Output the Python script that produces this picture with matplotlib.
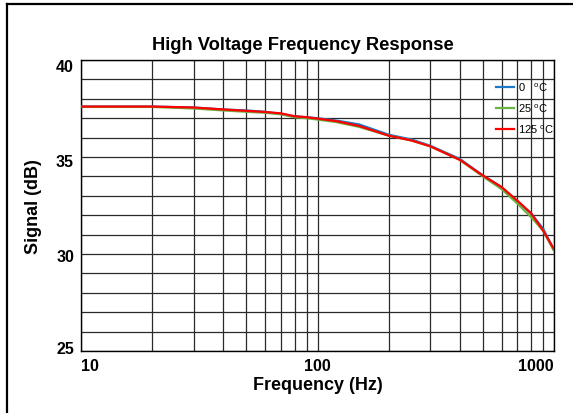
import matplotlib
matplotlib.use("Agg")
import matplotlib.pyplot as plt
from matplotlib.lines import Line2D
from matplotlib.transforms import ScaledTranslation

plt.rcParams['font.family'] = ['Liberation Sans', 'DejaVu Sans']

freq = [10, 20, 30, 40, 50, 60, 70, 80, 90, 100, 120, 150, 200, 250, 300, 400, 500, 600, 700, 800, 900, 1000]
sig_0C = [37.6, 37.6, 37.55, 37.45, 37.4, 37.33, 37.22, 37.1, 37.05, 37.0, 36.88, 36.68, 36.15, 35.9, 35.58, 34.9, 34.05, 33.45, 32.7, 32.1, 31.3, 30.2]
sig_25C = [37.58, 37.58, 37.5, 37.4, 37.33, 37.28, 37.2, 37.05, 37.0, 36.93, 36.8, 36.55, 36.1, 35.85, 35.55, 34.85, 34.0, 33.35, 32.6, 31.9, 31.2, 30.15]
sig_125C = [37.6, 37.6, 37.55, 37.45, 37.38, 37.32, 37.25, 37.1, 37.05, 36.98, 36.85, 36.6, 36.1, 35.85, 35.55, 34.85, 34.05, 33.45, 32.75, 32.1, 31.2, 30.25]
labels = ["0   $^{\\mathregular{o}}$C", "25 $^{\\mathregular{o}}$C", "125 $^{\\mathregular{o}}$C"]
colors = ["#1f77c8", "#6ab344", "#ff0000"]
yticks = [25, 30, 35, 40]
xticks = [10, 100, 1000]
xticklabels = ["10", "100", "1000"]

fig = plt.figure(figsize=(5.73, 4.14), dpi=100)
ax = fig.add_axes([81/573, 1-352/414, (554-81)/573, (352-61)/414])

for y, c, l in zip([sig_0C, sig_25C, sig_125C], colors, labels):
    ax.plot(freq, y, color=c, lw=1.6, label=l, zorder=3)

ax.set_xscale('log')
ax.set_xlim(10, 1000)
ax.set_ylim(25, 40)

# grid
ax.set_yticks(range(25, 41), minor=True)
ax.grid(True, which='both', axis='both', color='#2a2a2a', lw=0.9)
ax.set_xticks(xticks)
ax.set_xticklabels(xticklabels)
ax.set_yticks(yticks)
ax.set_yticklabels([str(v) for v in yticks])
ax.tick_params(which='both', length=0, labelsize=11.5)
ax.tick_params(axis='x', pad=5)
ax.tick_params(axis='y', pad=5)
for lab in ax.get_xticklabels() + ax.get_yticklabels():
    lab.set_fontweight('bold')
xl = ax.get_xticklabels()
xl[0].set_ha('left')
xl[2].set_ha('right')
for lab, dy in zip(ax.get_yticklabels(), [4, -1, -3, -5]):
    lab.set_transform(lab.get_transform() + ScaledTranslation(0, dy/100, fig.dpi_scale_trans))
for s in ax.spines.values():
    s.set_color('black')
    s.set_linewidth(1.0)

ax.set_title("High Voltage Frequency Response", fontsize=13.2, fontweight='bold', pad=8, x=0.47)
ax.set_xlabel("Frequency (Hz)", fontsize=13, fontweight='bold', labelpad=2)
ax.set_ylabel("Signal (dB)", fontsize=13, fontweight='bold', labelpad=10)

leg = ax.legend(loc='upper right', bbox_to_anchor=(1.0, 0.93), frameon=False,
                fontsize=8, handlelength=1.6, handletextpad=0.4, labelspacing=0.78,
                borderaxespad=0.0, borderpad=0.0)
for t in leg.get_texts():
    t.set_family(['Liberation Sans Narrow', 'Liberation Sans', 'DejaVu Sans'])

# figure border (left and top)
fig.add_artist(Line2D([7/573, 7/573], [0, 1-5/414], color='black', lw=1.6, transform=fig.transFigure))
fig.add_artist(Line2D([7/573, 1], [1-5/414, 1-5/414], color='black', lw=1.6, transform=fig.transFigure))

fig.savefig("out.png", dpi=100)
